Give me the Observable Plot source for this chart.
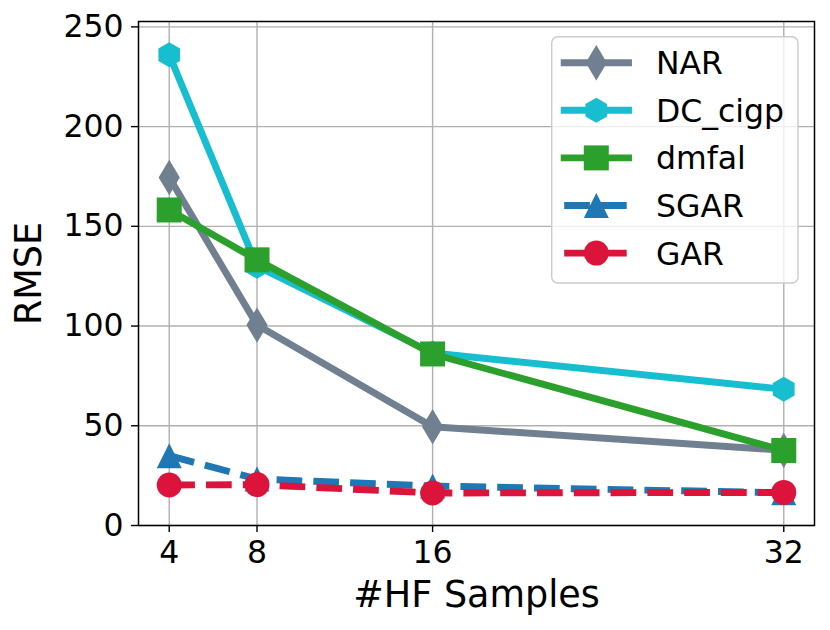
<!DOCTYPE html>
<html><head><meta charset="utf-8">
<script src="https://cdn.jsdelivr.net/npm/d3@7"></script>
<script src="https://cdn.jsdelivr.net/npm/@observablehq/plot@0.6"></script>
<style>
body{margin:0;background:#fff;}
#wrap{position:relative;width:830px;height:630px;font-family:"DejaVu Sans",sans-serif;}
#wrap svg{display:block;}
</style></head><body><div id="wrap"></div>
<script>
// ---- data ----
const samples = [4, 8, 16, 32];
const NAR = [174.5, 100.5, 49.5, 37.7];
const DC_cigp = [236, 130, 86.5, 68.3];
const dmfal = [158.2, 133.2, 86, 37.6];
const SGAR = [35, 23.3, 19.8, 16.4];
const GAR = [20.3, 20.5, 16.3, 16.6];
const seriesNames = ["NAR", "DC_cigp", "dmfal", "SGAR", "GAR"];
const seriesValues = [NAR, DC_cigp, dmfal, SGAR, GAR];
const xTicks = [4, 8, 16, 32];
const yTicks = [0, 50, 100, 150, 200, 250];
const xLabel = "#HF Samples";
const yLabel = "RMSE";

// ---- styles ----
const colors = ["#708090", "#17becf", "#2ca02c", "#1f77b4", "#dc143c"];
const dashed = [false, false, false, true, true];
const R = 12.5;
const LW = 6.9;
const DASH = "25.7,11.1";
const TICK_FS = 31.5;
const LABEL_FS = 36.5;
const LEGEND_FS = 31.5;

const symCircle = {draw(ctx, size) { const r = Math.sqrt(size / Math.PI); ctx.moveTo(r, 0); ctx.arc(0, 0, r, 0, 2 * Math.PI); ctx.closePath(); }};
const symSquare = {draw(ctx, size) { const r = Math.sqrt(size / Math.PI); ctx.rect(-r, -r, 2 * r, 2 * r); }};
const symThinDiamond = {draw(ctx, size) { const r = Math.sqrt(size / Math.PI); const h = r * Math.SQRT2, w = 0.6 * h; ctx.moveTo(0, -h); ctx.lineTo(w, 0); ctx.lineTo(0, h); ctx.lineTo(-w, 0); ctx.closePath(); }};
const symHexagon = {draw(ctx, size) { const r = Math.sqrt(size / Math.PI); for (let k = 0; k < 6; k++) { const a = -Math.PI / 2 + k * Math.PI / 3; const x = r * Math.cos(a), y = r * Math.sin(a); if (k === 0) ctx.moveTo(x, y); else ctx.lineTo(x, y); } ctx.closePath(); }};
const symTriangle = {draw(ctx, size) { const r = Math.sqrt(size / Math.PI); ctx.moveTo(0, -r); ctx.lineTo(r, r); ctx.lineTo(-r, r); ctx.closePath(); }};
const symbols = [symThinDiamond, symHexagon, symSquare, symTriangle, symCircle];

const rows = seriesNames.map((name, i) => samples.map((x, j) => ({series: name, x, y: seriesValues[i][j]})));

const marks = [
  Plot.gridX(xTicks, {stroke: "#b0b0b0", strokeWidth: 1.4, strokeOpacity: 1}),
  Plot.gridY(yTicks, {stroke: "#b0b0b0", strokeWidth: 1.4, strokeOpacity: 1}),
];
rows.forEach((data, i) => {
  marks.push(Plot.line(data, {x: "x", y: "y", stroke: colors[i], strokeWidth: LW,
    strokeDasharray: dashed[i] ? DASH : null,
    strokeLinecap: dashed[i] ? "butt" : "square", strokeLinejoin: "round"}));
  marks.push(Plot.dot(data, {x: "x", y: "y", fill: colors[i], stroke: "none", r: R, symbol: symbols[i]}));
});
marks.push(
  Plot.frame({stroke: "black", strokeWidth: 1.5}),
  Plot.axisX(xTicks, {tickSize: 7, tickPadding: 8, fontSize: TICK_FS, label: null, stroke: "black", strokeWidth: 1.4}),
  Plot.axisY(yTicks, {tickSize: 7, tickPadding: 8, fontSize: TICK_FS, label: null, stroke: "black", strokeWidth: 1.4}),
  Plot.text([xLabel], {frameAnchor: "bottom", textAnchor: "middle", lineAnchor: "middle", dy: 70, fontSize: LABEL_FS, fill: "black"}),
  Plot.text([yLabel], {frameAnchor: "left", textAnchor: "middle", lineAnchor: "middle", dx: -109, rotate: -90, fontSize: LABEL_FS, fill: "black"})
);

const chart = Plot.plot({
  width: 830, height: 630,
  marginLeft: 138, marginRight: 16, marginTop: 21, marginBottom: 105,
  x: {type: "linear", domain: [2.6, 33.4]},
  y: {type: "linear", domain: [0, 252.7]},
  style: {background: "white", fontFamily: "DejaVu Sans", color: "black", overflow: "visible"},
  marks
});
document.getElementById("wrap").appendChild(chart);

// ---- legend (inside the plot, upper right) ----
const leg = d3.select("#wrap").append("svg")
  .attr("width", 830).attr("height", 630)
  .style("position", "absolute").style("left", "0px").style("top", "0px");
leg.append("rect").attr("x", 551.7).attr("y", 36.7).attr("width", 246.3).attr("height", 246.3)
  .attr("rx", 6).attr("fill", "white").attr("fill-opacity", 0.8)
  .attr("stroke", "#cccccc").attr("stroke-width", 1.4);
seriesNames.forEach((name, i) => {
  const cy = 62.7 + i * 47.6;
  const g = leg.append("g");
  g.append("line").attr("x1", 564.2).attr("x2", 628.5).attr("y1", cy).attr("y2", cy)
    .attr("stroke", colors[i]).attr("stroke-width", LW)
    .attr("stroke-linecap", dashed[i] ? "butt" : "square")
    .attr("stroke-dasharray", dashed[i] ? DASH : null);
  g.append("path").attr("transform", `translate(596.3,${cy})`)
    .attr("d", d3.symbol(symbols[i], R * R * Math.PI)())
    .attr("fill", colors[i]);
  g.append("text").attr("x", 656).attr("y", cy + 11.5).attr("font-size", LEGEND_FS)
    .attr("font-family", "DejaVu Sans").attr("fill", "black").text(name);
});
</script>
</body></html>
